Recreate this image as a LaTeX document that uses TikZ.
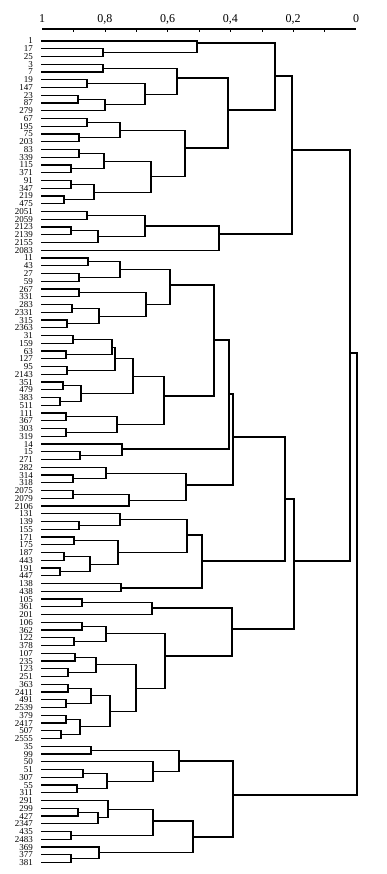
\documentclass[tikz,border=0pt]{standalone}
\usepackage{fontspec}
\setmainfont{Liberation Serif}
\usetikzlibrary{calc}
\tikzset{
  dl/.style={line width=1.1pt, line cap=rect, line join=miter},
  lab/.style={font=\fontsize{9}{9}\selectfont, anchor=east, inner sep=0pt, text height=6pt, text depth=0pt},
  axl/.style={font=\fontsize{12}{12}\selectfont, inner sep=0pt},
  axis/.style={line width=1.8pt},
  tick/.style={line width=0.6pt}
}
\newcommand\mrg[4]{%
  \draw[dl] let \p1=(#2), \p2=(#3) in (\p1) -- (#4pt,\y1) -- (#4pt,\y2) -- (\p2);
  \path let \p3=($(#2)!0.5!(#3)$) in coordinate (#1) at (#4pt,\y3);}
\newcommand\mrgy[5]{%
  \draw[dl] let \p1=(#2), \p2=(#3) in (\p1) -- (#4pt,\y1) -- (#4pt,\y2) -- (\p2);
  \coordinate (#1) at (#4pt,-#5pt);}
\begin{document}
\begin{tikzpicture}
\fill[white] (0pt,0pt) rectangle (386pt,-874pt);
\useasboundingbox (0pt,0pt) rectangle (386pt,-874pt);
% axis
\coordinate (ax0) at (42pt,-29pt);
\coordinate (ax1) at (356pt,-29pt);
\draw[axis] (ax0) -- (ax1);
\foreach \k in {1,...,9} {\draw[tick] ({42pt+\k*31.4pt},-29pt) -- ({42pt+\k*31.4pt},-32pt);}
\node[axl] (v10) at (42pt,-19pt) {1};
\node[axl] (v08) at (104.8pt,-19pt) {0,8};
\node[axl] (v06) at (167.6pt,-19pt) {0,6};
\node[axl] (v04) at (230.4pt,-19pt) {0,4};
\node[axl] (v02) at (293.2pt,-19pt) {0,2};
\node[axl] (v00) at (356pt,-19pt) {0};
% leaves
\foreach \lb [count=\i] in {1,17,25,3,7,19,147,23,87,279,67,195,75,203,83,339,115,371,91,347,219,475,2051,2059,2123,2139,2155,2083,11,43,27,59,267,331,283,2331,315,2363,31,159,63,127,95,2143,351,479,383,511,111,367,303,319,14,15,271,282,314,318,2075,2079,2106,131,139,155,171,175,187,443,191,447,138,438,105,361,201,106,362,122,378,107,235,123,251,363,2411,491,2539,379,2417,507,2555,35,99,50,51,307,55,311,291,299,427,2347,435,2483,369,377,381} {
  \node[lab] (t\i) at (33pt,{-41pt-(\i-1)*7.75pt}) {\lb};
  \coordinate (L\i) at (42pt,{-41pt-(\i-1)*7.75pt});
}
% group 1
\mrg{a1}{L2}{L3}{103}
\mrgy{a2}{L1}{a1}{197}{43}
\mrg{a3}{L4}{L5}{103}
\mrg{a4}{L6}{L7}{87}
\mrg{a5}{L8}{L9}{78}
\mrg{a6}{a5}{L10}{105}
\mrg{a7}{a4}{a6}{145}
\mrgy{a8}{a3}{a7}{177}{78}
% group 2
\mrg{b1}{L11}{L12}{87}
\mrg{b2}{L13}{L14}{79}
\mrg{b3}{b1}{b2}{120}
\mrg{b4}{L15}{L16}{79}
\mrg{b5}{L17}{L18}{71}
\mrg{b6}{b4}{b5}{104}
\mrg{b7}{L19}{L20}{71}
\mrg{b8}{L21}{L22}{64}
\mrg{b9}{b7}{b8}{94}
\mrg{b10}{b6}{b9}{151}
\mrgy{b11}{b3}{b10}{185}{148}
\mrgy{c1}{a8}{b11}{228}{110}
\mrgy{c2}{a2}{c1}{275}{76}
% group 3
\mrg{d1}{L23}{L24}{87}
\mrg{d2}{L25}{L26}{71}
\mrg{d3}{d2}{L27}{98}
\mrg{d4}{d1}{d3}{145}
\mrgy{d5}{d4}{L28}{219}{234}
\mrgy{top}{c2}{d5}{292}{150}
% middle group
\mrg{e1}{L29}{L30}{88}
\mrg{e2}{L31}{L32}{79}
\mrg{e3}{e1}{e2}{120}
\mrg{e4}{L33}{L34}{79}
\mrg{e5}{L35}{L36}{72}
\mrg{e6}{L37}{L38}{67}
\mrg{e7}{e5}{e6}{99}
\mrg{e8}{e4}{e7}{146}
\mrgy{e9}{e3}{e8}{170}{285}
\mrg{f1}{L39}{L40}{73}
\mrg{f2}{L41}{L42}{66}
\mrg{f3}{f1}{f2}{112}
\mrg{f4}{L43}{L44}{67}
\mrg{f5}{f3}{f4}{115}
\mrg{f6}{L45}{L46}{63}
\mrg{f7}{L47}{L48}{60}
\mrg{f8}{f6}{f7}{81}
\mrg{f9}{f5}{f8}{133}
\mrg{f10}{L49}{L50}{66}
\mrg{f11}{L51}{L52}{66}
\mrg{f12}{f10}{f11}{117}
\mrgy{f13}{f9}{f12}{164}{396}
\mrgy{g1}{e9}{f13}{214}{340}
\mrg{g2}{L54}{L55}{80}
\mrgy{g3}{L53}{g2}{122}{449}
\mrgy{g4}{g1}{g3}{229}{394}
\mrg{g5}{L57}{L58}{73}
\mrg{g6}{L56}{g5}{106}
\mrg{g7}{L59}{L60}{73}
\mrg{g8}{g7}{L61}{129}
\mrgy{g9}{g6}{g8}{186}{485}
\mrgy{g10}{g4}{g9}{233}{437}
\mrg{h1}{L63}{L64}{79}
\mrg{h2}{L62}{h1}{120}
\mrg{h3}{L65}{L66}{74}
\mrg{h4}{L67}{L68}{64}
\mrg{h5}{L69}{L70}{60}
\mrg{h6}{h4}{h5}{90}
\mrg{h7}{h3}{h6}{118}
\mrgy{h8}{h2}{h7}{187}{535}
\mrgy{h9}{L71}{L72}{121}{588}
\mrgy{h10}{h8}{h9}{202}{561}
\mrgy{h11}{g10}{h10}{285}{499}
\mrg{i1}{L73}{L74}{82}
\mrgy{i2}{i1}{L75}{152}{608}
\mrg{i3}{L76}{L77}{82}
\mrg{i4}{L78}{L79}{74}
\mrg{i5}{i3}{i4}{106}
\mrg{i6}{L80}{L81}{75}
\mrg{i7}{L82}{L83}{68}
\mrg{i8}{i6}{i7}{96}
\mrg{i9}{L84}{L85}{68}
\mrg{i10}{L86}{L87}{66}
\mrg{i11}{i9}{i10}{91}
\mrg{i12}{L88}{L89}{66}
\mrg{i13}{L90}{L91}{61}
\mrg{i14}{i12}{i13}{80}
\mrg{i15}{i11}{i14}{110}
\mrg{i16}{i8}{i15}{136}
\mrgy{i17}{i5}{i16}{165}{656}
\mrgy{i18}{i2}{i17}{232}{629}
\mrgy{mid}{h11}{i18}{294}{561}
\mrgy{upper}{top}{mid}{350}{353}
% bottom group
\mrg{j1}{L92}{L93}{91}
\mrg{j2}{L95}{L96}{83}
\mrg{j3}{L97}{L98}{77}
\mrg{j4}{j2}{j3}{107}
\mrg{j5}{L94}{j4}{153}
\mrgy{j6}{j1}{j5}{179}{761}
\mrg{k1}{L100}{L101}{78}
\mrg{k2}{k1}{L102}{98}
\mrg{k3}{L99}{k2}{108}
\mrg{k4}{L103}{L104}{71}
\mrgy{k5}{k3}{k4}{153}{821}
\mrg{k6}{L106}{L107}{71}
\mrg{k7}{L105}{k6}{99}
\mrgy{k8}{k5}{k7}{193}{837}
\mrgy{bot}{j6}{k8}{233}{795}
\mrg{root}{upper}{bot}{357}
\end{tikzpicture}
\end{document}
